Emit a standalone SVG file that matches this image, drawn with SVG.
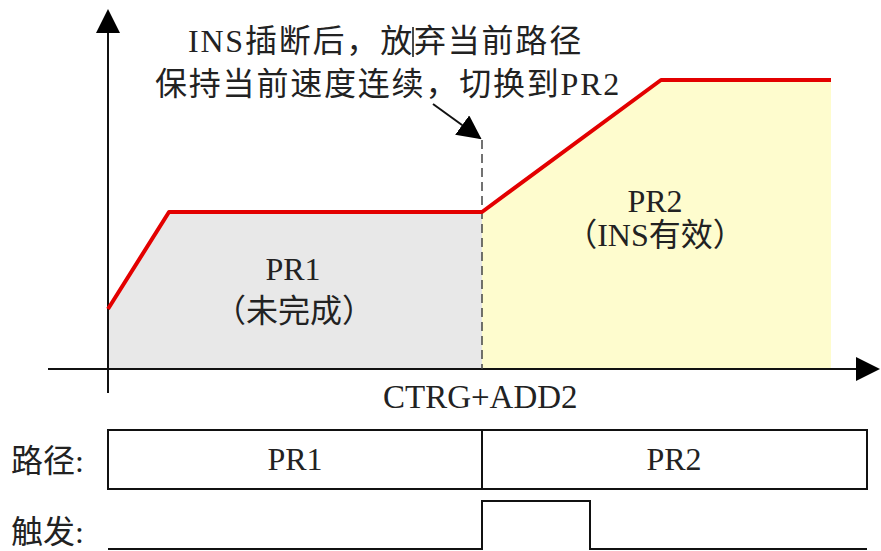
<svg xmlns="http://www.w3.org/2000/svg" width="881" height="551" viewBox="0 0 881 551">
<style>
text{font-family:"Liberation Serif","Noto Sans CJK SC",serif;fill:#222;font-size:32px}
.ax{stroke:#111;stroke-width:2;fill:none}
.box{stroke:#111;stroke-width:2;fill:#fff}
.c{text-anchor:middle}
.note{letter-spacing:1.8px}
</style>
<defs>
<marker id="ah" viewBox="0 0 24 24" refX="22" refY="12" markerWidth="24" markerHeight="24" markerUnits="userSpaceOnUse" orient="auto">
<path d="M0,0 L24,12 L0,24 Z" fill="#000"/>
</marker>
</defs>
<rect width="881" height="551" fill="#fff"/>
<g id="pr1-area">
<polygon points="108,309 169,212 482,212 482,369 108,369" fill="#e8e8e8"/>
<text class="c" x="293" y="280">PR1</text>
<text class="c" x="294" y="322">（未完成）</text>
</g>
<g id="pr2-area">
<polygon points="482,212 661,80 831,80 831,369 482,369" fill="#fefcce"/>
<text class="c" x="655" y="212">PR2</text>
<text class="c" x="655" y="246">（INS有效）</text>
</g>
<g id="connectors">
<line class="ax" x1="108" y1="393" x2="108" y2="11" marker-end="url(#ah)"/>
<line class="ax" x1="48" y1="369" x2="878" y2="369" marker-end="url(#ah)"/>
<line x1="482" y1="140" x2="482" y2="369" stroke="#444" stroke-width="1.5" stroke-dasharray="9,5"/>
<polyline points="108,309 169,212 482,212 661,80 831,80" fill="none" stroke="#e30000" stroke-width="4" stroke-linejoin="round"/>
<line x1="433" y1="104" x2="480" y2="138" stroke="#111" stroke-width="2" marker-end="url(#ah)"/>
</g>
<g id="note">
<text class="note" x="188" y="52">INS插断后，放弃当前路径</text>
<line x1="413" y1="27" x2="413" y2="57" stroke="#111" stroke-width="1.5"/>
<text class="note" x="155" y="95">保持当前速度连续，切换到PR2</text>
</g>
<g id="axis-label">
<text x="383" y="408" style="font-size:33px">CTRG+ADD2</text>
</g>
<g id="path-row">
<text x="11" y="472">路径:</text>
<rect class="box" x="108" y="430" width="759" height="59"/>
<line class="ax" x1="482" y1="430" x2="482" y2="489"/>
<text class="c" x="295" y="470">PR1</text>
<text class="c" x="674" y="470">PR2</text>
</g>
<g id="trigger-row">
<text x="11" y="543">触发:</text>
<polyline class="ax" points="108,549 482,549 482,501 590,501 590,549 867,549"/>
</g>
</svg>
